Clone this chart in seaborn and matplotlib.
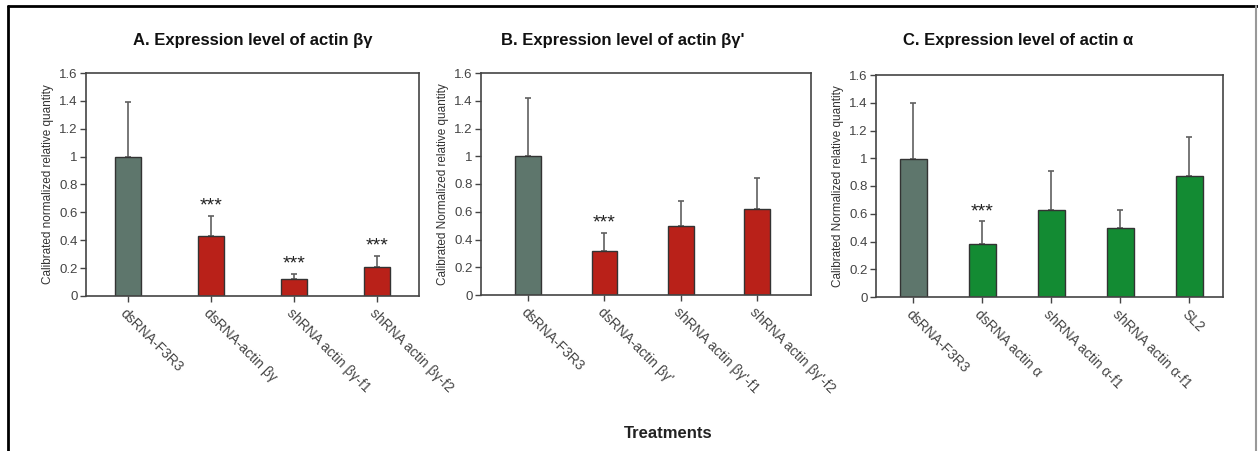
import matplotlib
matplotlib.use("Agg")
import matplotlib.pyplot as plt
import seaborn as sns
import pandas as pd
from matplotlib.lines import Line2D

# ----------------------------
# data
# ----------------------------
labels_a = ["dsRNA-F3R3", "dsRNA-actin βγ", "shRNA actin βγ-f1", "shRNA actin βγ-f2"]
values_a = [1.0, 0.43, 0.12, 0.21]
errors_a = [0.39, 0.145, 0.04, 0.08]
stars_a = ["", "***", "***", "***"]

labels_b = ["dsRNA-F3R3", "dsRNA-actin βγ'", "shRNA actin βγ'-f1", "shRNA actin βγ'-f2"]
values_b = [1.0, 0.315, 0.50, 0.62]
errors_b = [0.42, 0.13, 0.18, 0.22]
stars_b = ["", "***", "", ""]

labels_c = ["dsRNA-F3R3", "dsRNA actin α", "shRNA actin α-f1", "shRNA actin α-f1 ", "SL2"]
values_c = [0.995, 0.38, 0.625, 0.495, 0.87]
errors_c = [0.405, 0.165, 0.285, 0.13, 0.285]
stars_c = ["", "***", "", "", ""]

titles = ["A. Expression level of actin βγ",
          "B. Expression level of actin βγ'",
          "C. Expression level of actin α"]
ylabels = ["Calibrated normalized relative quantity",
           "Calibrated Normalized relative quantity",
           "Calibrated Normalized relative quantity"]

GREY = "#5e766c"
RED = "#b92119"
GREEN = "#138b33"

sns.set_style("white")
plt.rcParams["font.family"] = ["Liberation Sans", "DejaVu Sans"]

fig = plt.figure(figsize=(12.58, 4.51), dpi=100)
W, H = 1258, 451

def px_axes(x0, y0, x1, y1):
    return fig.add_axes([x0 / W, 1 - y1 / H, (x1 - x0) / W, (y1 - y0) / H])

panels = [
    (labels_a, values_a, errors_a, stars_a, RED, (86, 73, 419, 296), (-0.5, 3.5), 0.31),
    (labels_b, values_b, errors_b, stars_b, RED, (481, 73, 811, 295), (-0.62, 3.71), 0.34),
    (labels_c, values_c, errors_c, stars_c, GREEN, (876, 75, 1223, 297), (-0.54, 4.49), 0.39),
]
title_x = [253, 623, 1018]

for i, (labs, vals, errs, stars, col, box, xl, bw) in enumerate(panels):
    ax = px_axes(*box)
    df = pd.DataFrame({"treatment": labs, "value": vals})
    pal = {lab: (GREY if j == 0 else col) for j, lab in enumerate(labs)}
    sns.barplot(data=df, x="treatment", y="value", hue="treatment", palette=pal,
                width=bw, dodge=False, legend=False, edgecolor="#333333",
                linewidth=1.0, saturation=1, ax=ax, zorder=2)
    ax.errorbar(range(len(vals)), vals, yerr=[[0] * len(vals), errs], fmt="none",
                ecolor="#606060", elinewidth=1.2, capsize=2.5, capthick=1.2, zorder=1)
    for j, s in enumerate(stars):
        if s:
            ax.text(j, vals[j] + errs[j] + 0.01, s, ha="center", va="bottom",
                    fontsize=14, color="#222222")
    ax.set_xlim(*xl)
    ax.set_ylim(0, 1.6)
    ax.set_yticks([0, 0.2, 0.4, 0.6, 0.8, 1, 1.2, 1.4, 1.6])
    ax.set_yticklabels(["0", "0.2", "0.4", "0.6", "0.8", "1", "1.2", "1.4", "1.6"])
    ax.set_xticks(range(len(labs)))
    ax.set_xticklabels([l.strip() for l in labs], rotation=-45, ha="left",
                       rotation_mode="anchor", fontsize=10, color="#333333")
    ax.tick_params(axis="y", labelsize=9.5, colors="#444444", length=4, width=1,
                   direction="out", left=True, pad=2)
    ax.tick_params(axis="x", length=4, width=1, direction="out", bottom=True,
                   pad=3, colors="#444444")
    ax.set_xlabel("")
    ax.set_ylabel(ylabels[i], fontsize=8.5, color="#333333", labelpad=4)
    for sp in ax.spines.values():
        sp.set_visible(True)
        sp.set_color("#444444")
        sp.set_linewidth(1.2)
    fig.text(title_x[i] / W, 1 - 41 / H, titles[i], ha="center", va="center",
             fontsize=12, fontweight="bold", color="#111111")

fig.text(668 / W, 1 - 433 / H, "Treatments", ha="center", va="center",
         fontsize=12, fontweight="bold", color="#222222")

# outer frame
fig.add_artist(Line2D([8 / W, 8 / W], [0, 1 - 6 / H], color="black", lw=2,
                      transform=fig.transFigure))
fig.add_artist(Line2D([8 / W, 1], [1 - 6 / H, 1 - 6 / H], color="black", lw=2,
                      transform=fig.transFigure))
fig.add_artist(Line2D([1256 / W, 1256 / W], [0, 1 - 6 / H], color="#999999", lw=1.5,
                      transform=fig.transFigure))

fig.savefig("out.png", dpi=100)
